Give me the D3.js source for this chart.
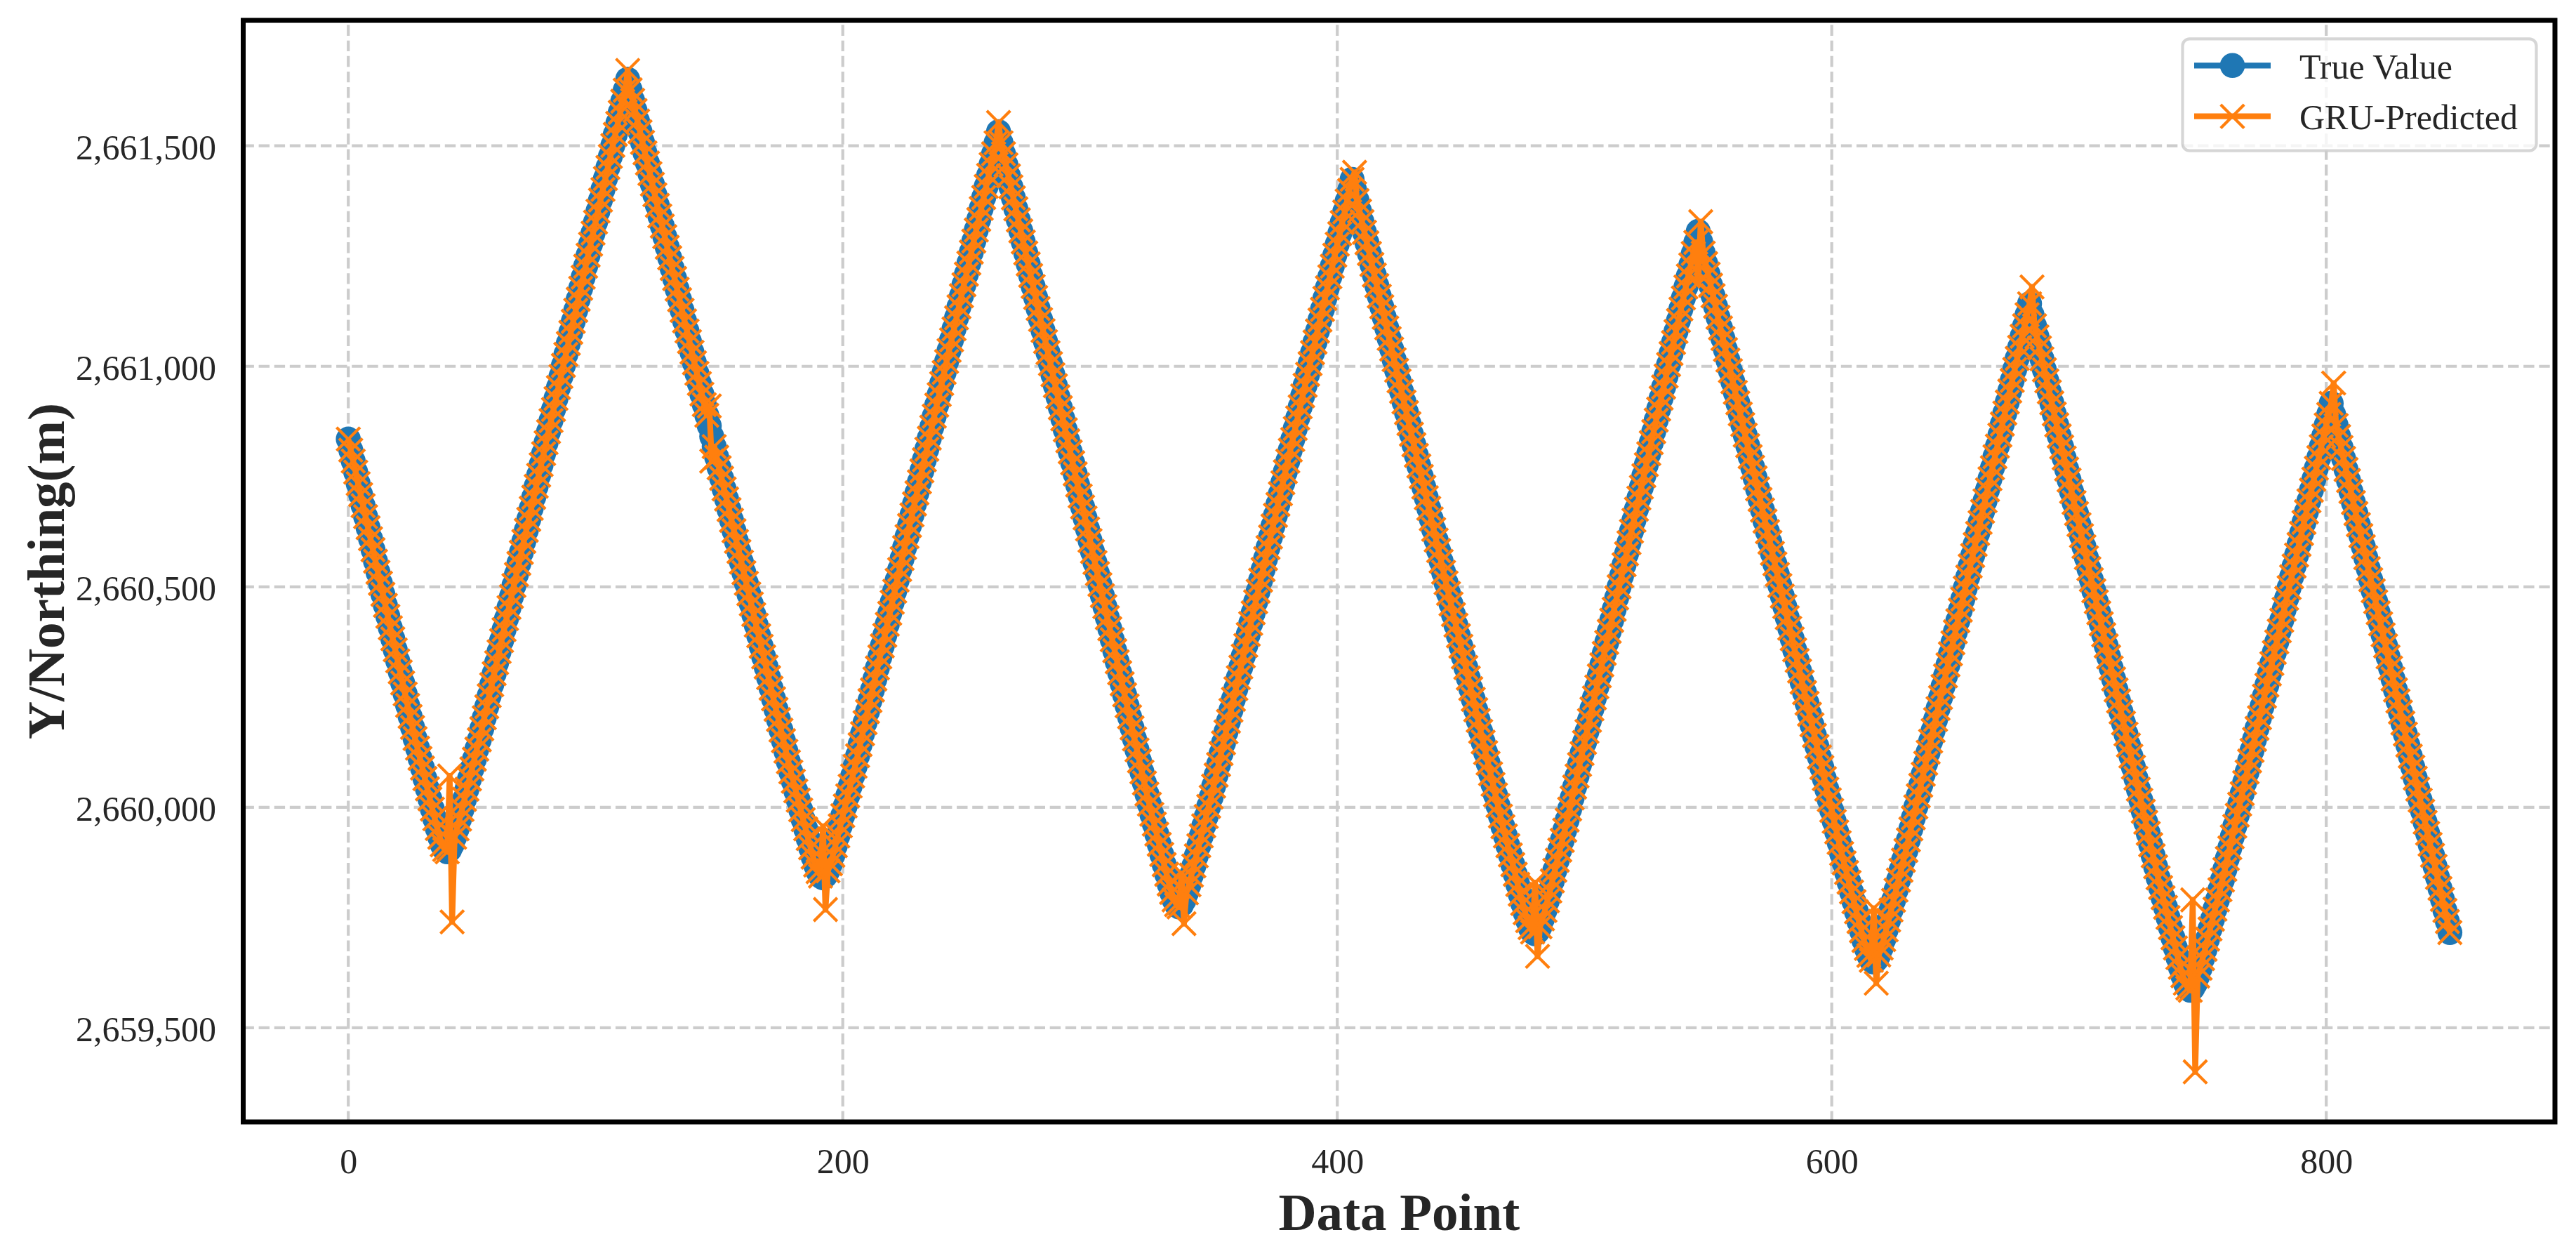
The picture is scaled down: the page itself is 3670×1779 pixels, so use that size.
<!DOCTYPE html>
<html>
<head>
<meta charset="utf-8">
<title>GRU prediction - Y/Northing</title>
<script src="https://cdn.jsdelivr.net/npm/d3@7/dist/d3.min.js"></script>
<style>
  body { margin: 0; background: #fff; }
  svg text { font-family: "Liberation Serif", "Times New Roman", serif; fill: #262626; }
</style>
</head>
<body>
<div class="chart"></div>
<script>
// northing values are kept as offsets (m) from this base
var NORTHING_BASE = 2659000;

// true track, one value per data point (0..850)
var trueOffsets = [
  1835,1810,1785,1760,1734,1709,1684,1659,1634,1609,
  1584,1558,1533,1508,1483,1458,1433,1407,1382,1357,
  1332,1307,1282,1257,1231,1206,1181,1156,1134,1111,
  1089,1065,1042,1019,996,974,952,932,915,904,
  899,904,915,932,951,973,995,1018,1041,1064,
  1087,1109,1132,1153,1178,1203,1228,1253,1278,1303,
  1328,1353,1378,1403,1428,1453,1478,1503,1528,1553,
  1578,1603,1628,1653,1678,1703,1728,1753,1777,1802,
  1827,1852,1877,1902,1927,1952,1977,2002,2027,2052,
  2077,2102,2127,2152,2177,2202,2227,2252,2277,2302,
  2327,2352,2377,2401,2426,2451,2476,2501,2526,2551,
  2576,2601,2626,2651,2627,2603,2580,2556,2532,2508,
  2484,2461,2437,2413,2389,2365,2341,2318,2294,2270,
  2246,2222,2199,2175,2151,2127,2103,2080,2056,2032,
  2008,1984,1961,1937,1913,1889,1865,1841,1818,1794,
  1770,1746,1722,1699,1675,1651,1627,1603,1580,1556,
  1532,1508,1484,1461,1437,1413,1389,1365,1341,1318,
  1294,1270,1246,1222,1199,1175,1151,1127,1103,1080,
  1059,1037,1016,994,972,951,929,908,887,869,
  854,844,840,845,856,872,891,913,935,958,
  981,1003,1026,1048,1071,1093,1117,1142,1167,1192,
  1217,1242,1266,1291,1316,1341,1366,1390,1415,1440,
  1465,1490,1515,1539,1564,1589,1614,1639,1663,1688,
  1713,1738,1763,1788,1812,1837,1862,1887,1912,1936,
  1961,1986,2011,2036,2060,2085,2110,2135,2160,2185,
  2209,2234,2259,2284,2309,2333,2358,2383,2408,2433,
  2458,2482,2507,2532,2507,2482,2457,2432,2407,2382,
  2357,2332,2307,2282,2257,2232,2206,2181,2156,2131,
  2106,2081,2056,2031,2006,1981,1956,1931,1906,1881,
  1856,1831,1806,1781,1756,1731,1706,1681,1656,1631,
  1605,1580,1555,1530,1505,1480,1455,1430,1405,1380,
  1355,1330,1305,1280,1255,1230,1205,1180,1155,1130,
  1105,1080,1055,1030,1007,984,962,939,916,893,
  870,848,826,807,790,779,774,779,789,806,
  824,846,867,890,913,935,958,979,1002,1023,
  1048,1073,1097,1122,1146,1171,1195,1220,1245,1269,
  1294,1318,1343,1367,1392,1417,1441,1466,1490,1515,
  1539,1564,1589,1613,1638,1662,1687,1711,1736,1761,
  1785,1810,1834,1859,1883,1908,1933,1957,1982,2006,
  2031,2055,2080,2105,2129,2154,2178,2203,2227,2252,
  2277,2301,2326,2350,2375,2399,2424,2400,2376,2352,
  2328,2304,2280,2256,2231,2207,2183,2159,2135,2111,
  2087,2063,2039,2015,1991,1967,1943,1919,1895,1870,
  1846,1822,1798,1774,1750,1726,1702,1678,1654,1630,
  1606,1582,1558,1533,1509,1485,1461,1437,1413,1389,
  1365,1341,1317,1293,1269,1245,1221,1197,1172,1148,
  1124,1100,1076,1052,1028,1004,980,956,935,913,
  892,870,848,825,803,782,761,743,727,717,
  713,718,729,747,766,788,810,833,857,880,
  903,925,948,971,996,1021,1046,1071,1097,1122,
  1147,1172,1197,1223,1248,1273,1298,1323,1349,1374,
  1399,1424,1449,1475,1500,1525,1550,1575,1600,1626,
  1651,1676,1701,1726,1752,1777,1802,1827,1852,1878,
  1903,1928,1953,1978,2004,2029,2054,2079,2104,2130,
  2155,2180,2205,2230,2256,2281,2306,2282,2257,2233,
  2209,2184,2160,2136,2111,2087,2063,2038,2014,1990,
  1965,1941,1917,1892,1868,1844,1820,1795,1771,1747,
  1722,1698,1674,1649,1625,1601,1576,1552,1528,1503,
  1479,1455,1430,1406,1382,1357,1333,1309,1284,1260,
  1236,1211,1187,1163,1138,1114,1090,1065,1041,1017,
  993,968,944,920,895,874,852,830,808,786,
  763,741,720,698,680,664,653,649,654,665,
  681,700,722,744,767,789,812,835,857,880,
  902,926,951,976,1001,1026,1050,1075,1100,1125,
  1150,1174,1199,1224,1249,1274,1298,1323,1348,1373,
  1398,1423,1447,1472,1497,1522,1547,1571,1596,1621,
  1646,1671,1695,1720,1745,1770,1795,1819,1844,1869,
  1894,1919,1944,1968,1993,2018,2043,2068,2092,2117,
  2142,2117,2092,2067,2042,2017,1992,1967,1942,1917,
  1892,1867,1842,1817,1792,1767,1742,1716,1691,1666,
  1641,1616,1591,1566,1541,1516,1491,1466,1441,1416,
  1391,1366,1341,1316,1291,1266,1241,1216,1191,1166,
  1141,1116,1091,1066,1041,1016,991,966,941,915,
  890,865,840,818,795,773,750,727,704,681,
  659,637,618,601,590,585,590,600,617,635,
  657,678,701,724,746,769,790,813,835,859,
  884,908,933,957,982,1007,1031,1056,1080,1105,
  1129,1154,1179,1203,1228,1252,1277,1302,1326,1351,
  1375,1400,1424,1449,1474,1498,1523,1547,1572,1596,
  1621,1646,1670,1695,1719,1744,1769,1793,1818,1842,
  1867,1891,1916,1891,1866,1841,1816,1791,1766,1741,
  1716,1691,1666,1641,1616,1591,1566,1541,1516,1491,
  1466,1441,1416,1391,1366,1341,1316,1291,1266,1241,
  1216,1191,1166,1141,1116,1091,1066,1041,1016,991,
  966,941,916,891,866,841,816,791,766,741,
  716
];

// GRU prediction sits on the true track except at the turns: [index, offset]
var gruDeviations = [
  [41, 1071], [42, 740], [113, 2671], [146, 1910], [147, 1785],
  [192, 957], [193, 768], [263, 2553], [337, 850], [338, 736],
  [407, 2440], [480, 829], [481, 662], [546, 2190], [547, 2328],
  [617, 771], [618, 601], [681, 2180], [746, 790], [747, 400],
  [803, 1962]
];

var xTicks = [0, 200, 400, 600, 800];
var yTicks = [2659500, 2660000, 2660500, 2661000, 2661500];
var seriesNames = ["True Value", "GRU-Predicted"];

var COLORS = { truth: "#1f77b4", gru: "#ff7f0e" };

var W = 3670, H = 1779;
var box = { left: 346.5, right: 3640, top: 29, bottom: 1598 };

var svg = d3.select(".chart").append("svg")
    .attr("width", W)
    .attr("height", H)
    .attr("viewBox", "0 0 " + W + " " + H);

svg.append("rect").attr("width", W).attr("height", H).attr("fill", "#fff");

var gruMap = new Map(gruDeviations.map(function (d) { return [d[0], d[1]]; }));

var trueData = trueOffsets.map(function (v, i) {
    return { i: i, v: NORTHING_BASE + v };
});
var gruData = trueOffsets.map(function (v, i) {
    return { i: i, v: NORTHING_BASE + (gruMap.has(i) ? gruMap.get(i) : v) };
});

// 5% margins on both axes, like matplotlib's autoscale
var xPad = (trueData.length - 1) * 0.05;
var yExt = d3.extent(trueData.concat(gruData), function (d) { return d.v; });
var yPad = (yExt[1] - yExt[0]) * 0.05;

var x = d3.scaleLinear()
    .domain([-xPad, trueData.length - 1 + xPad])
    .range([box.left, box.right]);
var y = d3.scaleLinear()
    .domain([yExt[0] - yPad, yExt[1] + yPad])
    .range([box.bottom, box.top]);

// grid
var grid = svg.append("g").attr("class", "grid")
    .attr("stroke", "#cccccc")
    .attr("stroke-width", 4.2)
    .attr("stroke-dasharray", "15.4,6.7");

grid.selectAll(".gx")
    .data(xTicks)
    .enter().append("line")
    .attr("class", "gx")
    .attr("x1", function (d) { return x(d); })
    .attr("x2", function (d) { return x(d); })
    .attr("y1", box.bottom)
    .attr("y2", box.top);

grid.selectAll(".gy")
    .data(yTicks)
    .enter().append("line")
    .attr("class", "gy")
    .attr("y1", function (d) { return y(d); })
    .attr("y2", function (d) { return y(d); })
    .attr("x1", box.left)
    .attr("x2", box.right);

// axes (labels only, no tick marks)
var xAxis = d3.axisBottom(x)
    .tickValues(xTicks)
    .tickSize(0)
    .tickPadding(37.5)
    .tickFormat(d3.format("d"));

var yAxis = d3.axisLeft(y)
    .tickValues(yTicks)
    .tickSize(0)
    .tickPadding(38.5)
    .tickFormat(d3.format(","));

svg.append("g")
    .attr("class", "x axis")
    .attr("transform", "translate(0," + box.bottom + ")")
    .call(xAxis)
    .attr("font-size", 50)
    .attr("font-family", null)
    .call(function (g) { g.select(".domain").remove(); })
    .selectAll("text").attr("fill", "#262626");

svg.append("g")
    .attr("class", "y axis")
    .attr("transform", "translate(" + box.left + ",0)")
    .call(yAxis)
    .attr("font-size", 50)
    .attr("font-family", null)
    .call(function (g) { g.select(".domain").remove(); })
    .selectAll("text").attr("fill", "#262626").attr("dy", "0.38em");

// data
svg.append("clipPath").attr("id", "plot-clip")
    .append("rect")
    .attr("x", box.left).attr("y", box.top)
    .attr("width", box.right - box.left).attr("height", box.bottom - box.top);

var line = d3.line()
    .x(function (d) { return x(d.i); })
    .y(function (d) { return y(d.v); });

var plot = svg.append("g").attr("clip-path", "url(#plot-clip)");

var XH = 16.7;
var crossPath = "M" + (-XH) + "," + (-XH) + "L" + XH + "," + XH +
    "M" + (-XH) + "," + XH + "L" + XH + "," + (-XH);

plot.append("path")
    .datum(trueData)
    .attr("fill", "none")
    .attr("stroke", COLORS.truth)
    .attr("stroke-width", 8.3)
    .attr("stroke-linejoin", "round")
    .attr("d", line);

plot.selectAll(".dot")
    .data(trueData)
    .enter().append("circle")
    .attr("class", "dot")
    .attr("cx", function (d) { return x(d.i); })
    .attr("cy", function (d) { return y(d.v); })
    .attr("r", 17.8)
    .attr("fill", COLORS.truth);

plot.append("path")
    .datum(gruData)
    .attr("fill", "none")
    .attr("stroke", COLORS.gru)
    .attr("stroke-width", 8.3)
    .attr("stroke-linejoin", "round")
    .attr("d", line);

plot.selectAll(".cross")
    .data(gruData)
    .enter().append("path")
    .attr("class", "cross")
    .attr("d", crossPath)
    .attr("transform", function (d) { return "translate(" + x(d.i) + "," + y(d.v) + ")"; })
    .attr("fill", "none")
    .attr("stroke", COLORS.gru)
    .attr("stroke-width", 4.2);

// frame
svg.append("rect")
    .attr("x", box.left).attr("y", box.top)
    .attr("width", box.right - box.left).attr("height", box.bottom - box.top)
    .attr("fill", "none")
    .attr("stroke", "#000")
    .attr("stroke-width", 7);

// axis labels
svg.append("text")
    .attr("x", (box.left + box.right) / 2)
    .attr("y", 1752)
    .attr("text-anchor", "middle")
    .attr("font-size", 75)
    .attr("font-weight", "bold")
    .text("Data Point");

svg.append("text")
    .attr("transform", "translate(91," + (box.top + box.bottom) / 2 + ") rotate(-90)")
    .attr("text-anchor", "middle")
    .attr("font-size", 75)
    .attr("font-weight", "bold")
    .text("Y/Northing(m)");

// legend
var legend = svg.append("g").attr("class", "legend");

legend.append("rect")
    .attr("x", 3109.5).attr("y", 55.3)
    .attr("width", 504).attr("height", 159.4)
    .attr("rx", 10).attr("ry", 10)
    .attr("fill", "#fff").attr("fill-opacity", 0.8)
    .attr("stroke", "#cccccc").attr("stroke-opacity", 0.8)
    .attr("stroke-width", 4.2);

var rows = legend.selectAll(".item")
    .data(seriesNames)
    .enter().append("g")
    .attr("class", "item")
    .attr("transform", function (d, i) { return "translate(0," + (93.3 + i * 72.4) + ")"; });

rows.append("line")
    .attr("x1", 3126).attr("x2", 3235)
    .attr("stroke", function (d, i) { return i === 0 ? COLORS.truth : COLORS.gru; })
    .attr("stroke-width", 8.3);

rows.filter(function (d, i) { return i === 0; })
    .append("circle")
    .attr("cx", 3180.5).attr("r", 17.8)
    .attr("fill", COLORS.truth);

rows.filter(function (d, i) { return i === 1; })
    .append("path")
    .attr("d", crossPath)
    .attr("transform", "translate(3180.5,0)")
    .attr("fill", "none")
    .attr("stroke", COLORS.gru)
    .attr("stroke-width", 4.2);

rows.append("text")
    .attr("x", 3276)
    .attr("y", 18.4)
    .attr("font-size", 50)
    .text(function (d) { return d; });
</script>
</body>
</html>
